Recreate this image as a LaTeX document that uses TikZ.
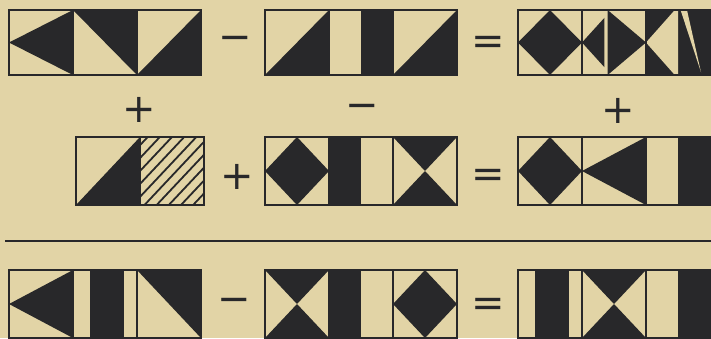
\documentclass[tikz,border=0pt]{standalone}
\usepackage{fontspec}
\usepackage{xcolor}
\usepackage{tikz}
\newfontfamily\signfont{DejaVu Sans}
\definecolor{paper}{RGB}{226,212,166}
\definecolor{inkc}{RGB}{40,40,42}
\tikzset{ink/.style={fill=inkc},
tileframe/.style={draw=inkc,line width=1.4pt},
hatchline/.style={draw=inkc,line width=1.8pt},
sign/.style={text=inkc,inner sep=0pt,font=\signfont\fontsize{40}{40}\selectfont}}
\newcommand{\tile}[4]{\begin{scope}[shift={(#1,#2)},xscale=64,yscale=#3]
#4
\draw[tileframe](0,0)rectangle(1,1);
\end{scope}}
\newcommand{\Ltri}{\fill[ink](0,0.5)--(1,0)--(1,1)--cycle;}
\newcommand{\URtri}{\fill[ink](0,0)--(1,0)--(1,1)--cycle;}
\newcommand{\LRtri}{\fill[ink](1,0)--(1,1)--(0,1)--cycle;}
\newcommand{\Diam}{\fill[ink](0.5,0)--(1,0.5)--(0.5,1)--(0,0.5)--cycle;}
\newcommand{\Hglass}{\fill[ink](0,0)--(1,0)--(0.5,0.5)--cycle (0,1)--(1,1)--(0.5,0.5)--cycle;}
\newcommand{\HalfR}{\fill[ink](0.5,0)rectangle(1,1);}
\newcommand{\HalfL}{\fill[ink](0,0)rectangle(0.5,1);}
\newcommand{\Band}{\fill[ink](0.26,0)rectangle(0.8,1);}
\newcommand{\Hatch}{\begin{scope}\clip(0,0)rectangle(1,1);
\foreach \c in {0.12,0.31,...,1.9}\draw[hatchline](\c,0)--(\c-1,1);
\end{scope}}
\begin{document}
\begin{tikzpicture}[x=1pt,y=-1pt]
\fill[paper](0,0)rectangle(711,338);
\useasboundingbox(0,0)rectangle(711,338);
\tile{9}{10}{65}{\Ltri}
\tile{73}{10}{65}{\URtri}
\tile{137}{10}{65}{\LRtri}
\tile{265}{10}{65}{\LRtri}
\tile{329}{10}{65}{\HalfR}
\tile{393}{10}{65}{\LRtri}
\tile{518}{10}{65}{\Diam}
\tile{582}{10}{65}{\fill[ink](0,0.5)--(0.35,0.12)--(0.35,0.88)--cycle (0.4,0)--(1,0.5)--(0.4,1)--cycle;}
\tile{646}{10}{65}{\fill[ink](0,0)rectangle(1,1);
\fill[paper](0,0.5)--(0.45,0)--(0.5,0)--(0.5,1)--(0.45,1)--cycle (0.54,0)--(0.64,0)--(0.86,0.96)--cycle;}
\tile{76}{137}{68}{\LRtri}
\tile{140}{137}{68}{\Hatch}
\tile{265}{137}{68}{\Diam}
\tile{329}{137}{68}{\HalfL}
\tile{393}{137}{68}{\Hglass}
\tile{518}{137}{68}{\Diam}
\tile{582}{137}{68}{\Ltri}
\tile{646}{137}{68}{\HalfR}
\tile{9}{270}{68}{\Ltri}
\tile{73}{270}{68}{\Band}
\tile{137}{270}{68}{\URtri}
\tile{265}{270}{68}{\Hglass}
\tile{329}{270}{68}{\HalfL}
\tile{393}{270}{68}{\Diam}
\tile{518}{270}{68}{\Band}
\tile{582}{270}{68}{\Hglass}
\tile{646}{270}{68}{\HalfR}
\node[sign](r1m) at (235,43){−};
\node[sign](r1e) at (488,45){=};
\node[sign](c1p) at (139,110){+};
\node[sign](c2m) at (362,111){−};
\node[sign](c3p) at (618,111){+};
\node[sign](r2p) at (237,177){+};
\node[sign](r2e) at (488,178){=};
\node[sign](r3m) at (234,305){−};
\node[sign](r3e) at (488,307){=};
\draw[inkc,line width=2pt](5,241)--(711,241);
\end{tikzpicture}
\end{document}
